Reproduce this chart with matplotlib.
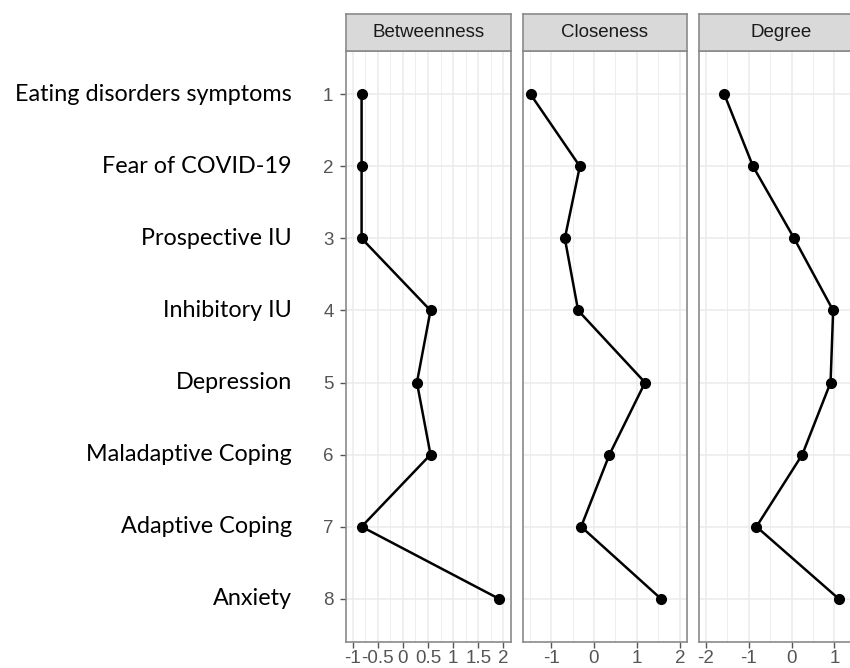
import matplotlib
matplotlib.use("Agg")
import matplotlib.pyplot as plt
import matplotlib.transforms as mtransforms
import numpy as np

# node labels (top to bottom) and centrality z-scores
nodes = ["Eating disorders symptoms", "Fear of COVID-19", "Prospective IU",
         "Inhibitory IU", "Depression", "Maladaptive Coping",
         "Adaptive Coping", "Anxiety"]
order = [1, 2, 3, 4, 5, 6, 7, 8]

betweenness = [-0.82, -0.82, -0.82, 0.55, 0.28, 0.55, -0.82, 1.91]
closeness = [-1.48, -0.33, -0.68, -0.37, 1.19, 0.36, -0.30, 1.56]
degree = [-1.57, -0.90, 0.06, 0.97, 0.91, 0.25, -0.82, 1.10]

panels = ["Betweenness", "Closeness", "Degree"]
values = [betweenness, closeness, degree]
xlims = [(-1.13, 2.15), (-1.655, 2.168), (-2.16, 1.69)]
xticks = [[-1, -0.5, 0, 0.5, 1, 1.5, 2], [-1, 0, 1, 2], [-2, -1, 0, 1]]
xticklabels = [["-1", "-0.5", "0", "0.5", "1", "1.5", "2"],
               ["-1", "0", "1", "2"], ["-2", "-1", "0", "1"]]

W, H = 850, 668
fig = plt.figure(figsize=(W / 100, H / 100), dpi=100)

# panel left/right edges in pixels
edges = [(346, 511), (523, 687), (699, 864)]
top_px, bot_px, strip_top = 51, 642, 14
border = "#8a8a8a"
grid_c = "#ebebeb"
tick_c = "#555555"

axes = []
for i, (l, r) in enumerate(edges):
    ax = fig.add_axes([l / W, (H - bot_px) / H, (r - l) / W, (bot_px - top_px) / H])
    ax.plot(values[i], order, color="black", lw=1.8, marker="o", ms=7, zorder=3)
    ax.set_xticks(xticks[i])
    ax.set_xticklabels(xticklabels[i])
    mn = [(a + b) / 2 for a, b in zip(xticks[i][:-1], xticks[i][1:])]
    step = xticks[i][1] - xticks[i][0]
    mn = [xticks[i][0] - step / 2] + mn + [xticks[i][-1] + step / 2]
    ax.set_xticks(mn, minor=True)
    ax.set_yticks(order)
    # limits after the ticks, so the outer minor ticks do not widen them
    ax.set_xlim(*xlims[i])
    ax.set_ylim(8.6, 0.4)
    ax.grid(True, which="major", color=grid_c, lw=1.1, zorder=0)
    ax.grid(True, which="minor", axis="x", color=grid_c, lw=0.6, zorder=0)
    ax.tick_params(which="minor", length=0)
    ax.tick_params(which="major", length=4, width=1, color=tick_c,
                   labelcolor=tick_c, labelsize=13.5, pad=1.5)
    ax.tick_params(axis="y", pad=5)
    for lab in ax.get_xticklabels() + ax.get_yticklabels():
        lab.set_fontfamily("Liberation Sans")
    if i > 0:
        ax.tick_params(axis="y", left=False, labelleft=False)
    for s in ax.spines.values():
        s.set_color(border)
        s.set_linewidth(1.2)
    ax.set_axisbelow(True)

    # facet strip
    sax = fig.add_axes([l / W, (H - top_px) / H, (r - l) / W, (top_px - strip_top) / H])
    sax.set_facecolor("#d9d9d9")
    sax.set_xticks([])
    sax.set_yticks([])
    for s in sax.spines.values():
        s.set_color(border)
        s.set_linewidth(1.2)
    sax.text(0.5, 0.5, panels[i], ha="center", va="center", fontsize=13.5,
             color="#1a1a1a", family="Liberation Sans", transform=sax.transAxes)
    axes.append(ax)

# node names on the far left
trans = mtransforms.blended_transform_factory(fig.transFigure, axes[0].transData)
for name, y in zip(nodes, order):
    axes[0].text(292 / W, y, name, ha="right", va="center", fontsize=16.8,
                 family="Lato", color="black", transform=trans)

fig.savefig("out.png", dpi=100)
